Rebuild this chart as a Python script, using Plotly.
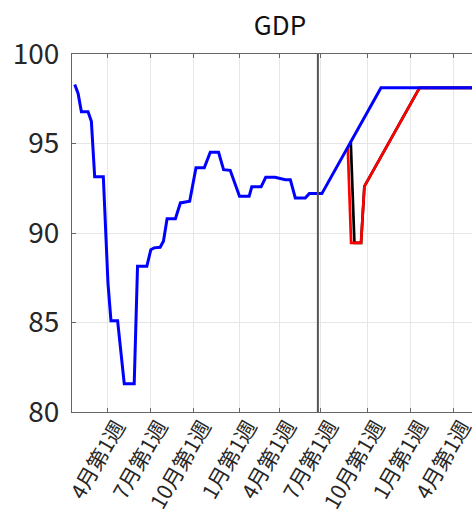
import plotly.graph_objects as go

# ---- data (x in weeks from "4月第1週" 2020) ----
hist_week = [-10, -9, -8, -6, -5, -4, -1.4, 0, 0.9, 2.9, 4.9, 7.9, 8.9, 11.7, 12.9, 13.9, 15.7, 16.7, 17.8, 20.3,
             21.8, 24.6, 26.5, 29, 30.8, 33.3, 34.8, 36.8, 39.6, 42.5, 43.3, 46.1, 47.5, 50.3, 53.4, 54.9, 56.4,
             59.4, 60.6, 64.4]
hist_gdp = [98.3, 97.8, 96.77, 96.77, 96.24, 93.14, 93.14, 87.2, 85.1, 85.1, 81.58, 81.58, 88.14, 88.14, 89.07,
            89.17, 89.2, 89.54, 90.8, 90.8, 91.68, 91.77, 93.64, 93.64, 94.51, 94.51, 93.54, 93.5, 92.05, 92.05,
            92.58, 92.58, 93.11, 93.11, 92.98, 92.98, 91.96, 91.96, 92.2, 92.2]

blue_proj_week = [64.4, 82.2, 115]
blue_proj_gdp = [92.2, 98.11, 98.11]

red_week = [72.2, 73.2, 76.2, 77.2, 93.8, 115]
red_gdp = [94.8, 89.45, 89.45, 92.61, 98.11, 98.11]

black_week = [73.1, 74.2, 76.2, 77.2, 93.8, 115]
black_gdp = [95.1, 89.45, 89.45, 92.61, 98.11, 98.11]

now_week = 63.2

tick_weeks = [0, 12.8, 25.8, 39.6, 51.5, 64.1, 78.1, 91.1, 104]
tick_text = ["4月第1週", "7月第1週", "10月第1週", "1月第1週", "4月第1週",
             "7月第1週", "10月第1週", "1月第1週", "4月第1週"]
y_ticks = [80, 85, 90, 95, 100]

fig = go.Figure()
fig.add_trace(go.Scatter(x=black_week, y=black_gdp, mode="lines",
                         line=dict(color="#000000", width=2.7), showlegend=False))
fig.add_trace(go.Scatter(x=red_week, y=red_gdp, mode="lines",
                         line=dict(color="#ff0000", width=2.7), showlegend=False))
fig.add_trace(go.Scatter(x=hist_week + blue_proj_week[1:], y=hist_gdp + blue_proj_gdp[1:], mode="lines",
                         line=dict(color="#0000ff", width=3), showlegend=False))

fig.add_shape(type="line", xref="x", yref="paper", x0=now_week, x1=now_week, y0=0, y1=1,
              line=dict(color="#555555", width=2))

W, H = 472, 516
fig.update_layout(
    width=W, height=H,
    margin=dict(l=72, r=0, t=54, b=104, autoexpand=False),
    paper_bgcolor="white", plot_bgcolor="white",
    title=dict(text="GDP", x=280 / W, xanchor="center", xref="container",
               y=1 - 26 / H, yanchor="middle", yref="container",
               font=dict(family="Noto Sans CJK JP", size=26, color="#111111")),
    font=dict(family="Noto Sans CJK JP", color="#262626"),
)
fig.update_xaxes(range=[-10.83, 109.6], tickvals=tick_weeks, ticktext=tick_text, automargin=False,
                 tickangle=-60, tickfont=dict(size=21, family="Noto Sans CJK JP", color="#262626"),
                 ticklabelshift=9, ticklabelstandoff=-7, ticklabeloverflow="allow",
                 showgrid=True, gridcolor="#e6e6e6", gridwidth=1,
                 showline=True, linecolor="#666666", linewidth=1, mirror="ticks",
                 ticks="inside", ticklen=4, tickcolor="#666666", zeroline=False)
fig.update_yaxes(range=[80, 100], tickvals=y_ticks, automargin=False,
                 tickfont=dict(size=28, family="Noto Sans CJK JP", color="#262626"),
                 showgrid=True, gridcolor="#e6e6e6", gridwidth=1,
                 showline=True, linecolor="#666666", linewidth=1, mirror=False,
                 ticks="inside", ticklen=4, tickcolor="#666666", zeroline=False,
                 ticklabelstandoff=6)

fig.write_html("out.html", config={"displayModeBar": False, "staticPlot": True},
               post_script="document.body.style.margin='0px';document.body.style.overflow='hidden';")
